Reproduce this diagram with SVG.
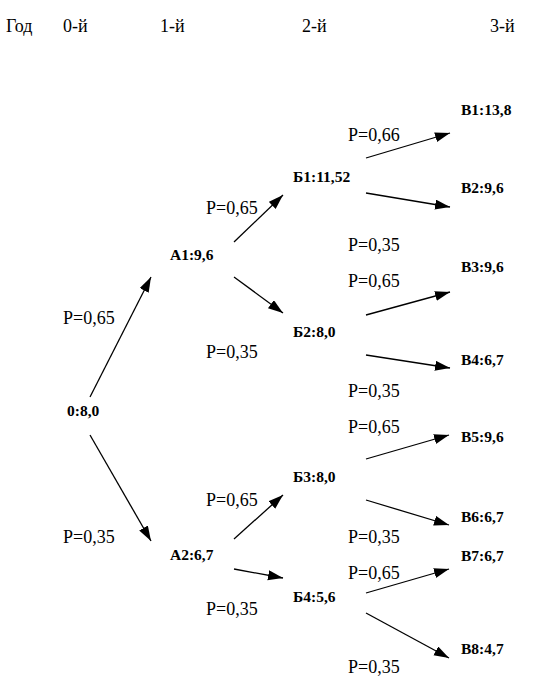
<svg xmlns="http://www.w3.org/2000/svg" width="544" height="696" viewBox="0 0 544 696">
<defs>
<marker id="ah" markerUnits="userSpaceOnUse" markerWidth="16" markerHeight="12" refX="15" refY="5" orient="auto">
<path d="M0,0 L15,5 L0,10 Z" fill="#000"/>
</marker>
<style>
.hd{font-family:"Liberation Serif",serif;font-size:18px;fill:#000}
.nd{font-family:"Liberation Serif",serif;font-size:15.5px;font-weight:bold;fill:#000}
.p{font-family:"Liberation Serif",serif;font-size:18px;fill:#000}
.c{stroke:#000;stroke-width:1.3;fill:none;marker-end:url(#ah)}
</style>
</defs>
<rect width="544" height="696" fill="#fff"/>
<g id="header">
<text class="hd" x="6" y="32">Год</text>
<text class="hd" x="63" y="32">0-й</text>
<text class="hd" x="160" y="32">1-й</text>
<text class="hd" x="302" y="32">2-й</text>
<text class="hd" x="490" y="32">3-й</text>
</g>
<g id="connectors">
<line class="c" x1="90" y1="397" x2="151" y2="277"/>
<line class="c" x1="90" y1="435" x2="151" y2="541"/>
<line class="c" x1="234" y1="242" x2="283" y2="195"/>
<line class="c" x1="234" y1="277" x2="283" y2="313"/>
<line class="c" x1="234" y1="539" x2="283" y2="495"/>
<line class="c" x1="234" y1="569" x2="283" y2="578"/>
<line class="c" x1="366" y1="158" x2="450" y2="133"/>
<line class="c" x1="366" y1="193" x2="450" y2="207"/>
<line class="c" x1="366" y1="315" x2="450" y2="292"/>
<line class="c" x1="366" y1="355" x2="450" y2="368"/>
<line class="c" x1="366" y1="459" x2="449" y2="435"/>
<line class="c" x1="366" y1="500" x2="449" y2="525"/>
<line class="c" x1="366" y1="593" x2="449" y2="569"/>
<line class="c" x1="366" y1="613" x2="449" y2="658"/>
</g>
<g id="edge-labels">
<text class="p" x="63" y="324">P=0,65</text>
<text class="p" x="63" y="543">P=0,35</text>
<text class="p" x="206" y="214">P=0,65</text>
<text class="p" x="206" y="358">P=0,35</text>
<text class="p" x="206" y="506">P=0,65</text>
<text class="p" x="206" y="615">P=0,35</text>
<text class="p" x="348" y="141">P=0,66</text>
<text class="p" x="348" y="251">P=0,35</text>
<text class="p" x="348" y="287">P=0,65</text>
<text class="p" x="348" y="397">P=0,35</text>
<text class="p" x="348" y="433">P=0,65</text>
<text class="p" x="348" y="543">P=0,35</text>
<text class="p" x="348" y="579">P=0,65</text>
<text class="p" x="348" y="673">P=0,35</text>
</g>
<g id="n0"><text class="nd" x="67" y="416">0:8,0</text></g>
<g id="nA1"><text class="nd" x="170" y="260">А1:9,6</text></g>
<g id="nA2"><text class="nd" x="170" y="560">А2:6,7</text></g>
<g id="nB1"><text class="nd" x="293" y="182">Б1:11,52</text></g>
<g id="nB2"><text class="nd" x="293" y="337">Б2:8,0</text></g>
<g id="nB3"><text class="nd" x="293" y="482">Б3:8,0</text></g>
<g id="nB4"><text class="nd" x="293" y="602">Б4:5,6</text></g>
<g id="nV1"><text class="nd" x="461" y="115">В1:13,8</text></g>
<g id="nV2"><text class="nd" x="461" y="193">В2:9,6</text></g>
<g id="nV3"><text class="nd" x="461" y="272">В3:9,6</text></g>
<g id="nV4"><text class="nd" x="461" y="365">В4:6,7</text></g>
<g id="nV5"><text class="nd" x="461" y="442">В5:9,6</text></g>
<g id="nV6"><text class="nd" x="461" y="522">В6:6,7</text></g>
<g id="nV7"><text class="nd" x="461" y="561">В7:6,7</text></g>
<g id="nV8"><text class="nd" x="461" y="654">В8:4,7</text></g>
</svg>
